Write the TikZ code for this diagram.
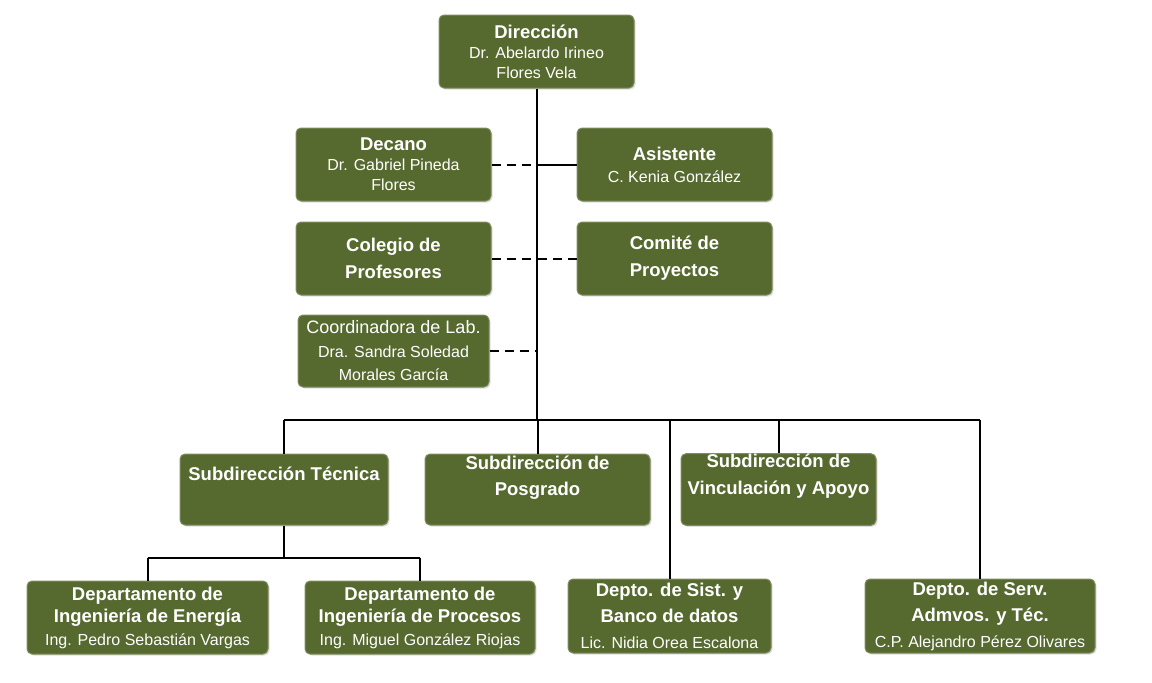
\documentclass[tikz,border=0pt]{standalone}
\usepackage{fontspec}
\setmainfont{Liberation Sans}
\usetikzlibrary{shadows}
\definecolor{olivo}{HTML}{566A30}
\definecolor{olivoborde}{HTML}{7E8B5C}
\tikzset{
  caja/.style={draw=olivoborde, fill=olivo, line width=1pt, rounded corners=5pt,
    text=white, align=center, inner sep=0pt, font=\fontsize{16}{20}\selectfont,
    drop shadow={shadow xshift=1.5pt, shadow yshift=-1.5pt, opacity=0.25}},
  linea/.style={line width=2pt},
  guion/.style={line width=2pt, dash pattern=on 9pt off 6pt},
}
\newcommand{\tit}[1]{{\bfseries\fontsize{18.5}{20}\selectfont #1}}
\begin{document}
\begin{tikzpicture}[x=1pt,y=-1pt]
    \useasboundingbox (0,0) rectangle (1152,683);
    % direccion y staff
    \node[caja, minimum width=195, minimum height=73] (dir) at (536.5,51.5) {\tit{Dirección}\\Dr. Abelardo Irineo\\Flores Vela};
    \node[caja, minimum width=195, minimum height=73] (dec) at (393.5,164.5) {\tit{Decano}\\Dr. Gabriel Pineda\\Flores};
    \node[caja, minimum width=195, minimum height=73] (asi) at (674.5,164.5) {\tit{Asistente}\\[2pt]C. Kenia González};
    \node[caja, minimum width=195, minimum height=73] (col) at (393.5,258.5) {\tit{Colegio de}\\[7pt]\tit{Profesores}};
    \node[caja, minimum width=195, minimum height=73] (com) at (674.5,258.5) {\tit{Comité de}\\[7pt]\tit{Proyectos}};
    \node[caja, minimum width=191, minimum height=72] (coo) at (393.5,351) {{\fontsize{18}{20}\selectfont Coordinadora de Lab.}\\[3.5pt]Dra. Sandra Soledad\\[3.5pt]Morales García};
    % subdirecciones
    \node[caja, minimum width=208, minimum height=71, text depth=31] (stec) at (284,489.5) {\tit{Subdirección Técnica}};
    \node[caja, minimum width=225, minimum height=71, text depth=27] (spos) at (537.5,489.5) {\tit{Subdirección de}\\[6pt]\tit{Posgrado}};
    \node[caja, minimum width=195, minimum height=71, text depth=31] (svin) at (778.5,489.5) {\tit{Subdirección de}\\[7pt]\tit{Vinculación y Apoyo}};
    % departamentos
    \node[caja, minimum width=241, minimum height=73] (den) at (147.5,617.5) {\tit{Departamento de}\\[2.5pt]\tit{Ingeniería de Energía}\\[2.5pt]Ing. Pedro Sebastián Vargas};
    \node[caja, minimum width=230, minimum height=73] (dpr) at (420,617.5) {\tit{Departamento de}\\[2.5pt]\tit{Ingeniería de Procesos}\\[2.5pt]Ing. Miguel González Riojas};
    \node[caja, minimum width=203, minimum height=74] (dsi) at (669.5,616) {\tit{Depto. de Sist. y}\\[6pt]\tit{Banco de datos}\\[6pt]Lic. Nidia Orea Escalona};
    \node[caja, minimum width=230, minimum height=74] (dse) at (980,616) {\tit{Depto. de Serv.}\\[6pt]\tit{Admvos. y Téc.}\\[6pt]C.P. Alejandro Pérez Olivares};
    \coordinate (bus) at (538,420);%barra horizontal
    \coordinate (tbus) at (286,558);
    \draw[linea] (dir.south) -- (dir.south |- bus);
    \draw[linea] (stec.north |- bus) -- (dse.north |- bus);
    \draw[linea] (stec.north) -- (stec.north |- bus);
    \draw[linea] (spos.north) -- (spos.north |- bus);
    \draw[linea] (svin.north) -- (svin.north |- bus);
    \draw[linea] (dsi.north) -- (dsi.north |- bus);
    \draw[linea] (dse.north) -- (dse.north |- bus);
    \draw[linea] (stec.south) -- (stec.south |- tbus);
    \draw[linea] (den.north |- tbus) -- (dpr.north |- tbus);
    \draw[linea] (den.north) -- (den.north |- tbus);
    \draw[linea] (dpr.north) -- (dpr.north |- tbus);
    \draw[guion] (dec.east) -- (dec.east -| dir.south);%linea de staff
    \draw[linea] (asi.west) -- (asi.west -| dir.south);
    \draw[guion] (col.east) -- (col.east -| dir.south);
    \draw[guion] (com.west) -- (com.west -| dir.south);
    \draw[guion] (coo.east) -- (coo.east -| dir.south);
\end{tikzpicture}
\end{document}
